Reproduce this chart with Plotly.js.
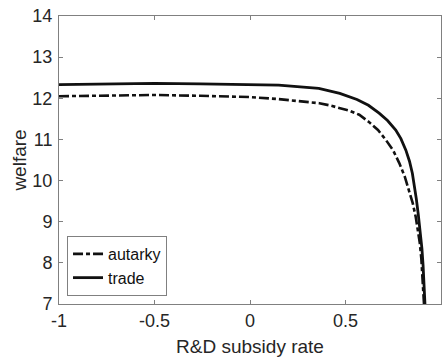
<!DOCTYPE html>
<html>
<head>
<meta charset="utf-8">
<script src="https://cdn.plot.ly/plotly-3.0.1.min.js"></script>
<style>html,body{margin:0;padding:0;background:#fff}#chart{width:442px;height:363px}</style>
</head>
<body>
<div id="chart"></div>
<script>
var subsidyTrade = [-1, -0.75, -0.5, -0.26, 0, 0.15, 0.36, 0.47, 0.56, 0.62, 0.676, 0.72, 0.763, 0.79, 0.816, 0.835, 0.85, 0.862, 0.871, 0.881, 0.889, 0.895, 0.9, 0.906, 0.911, 0.916];
var welfareTrade = [12.33, 12.35, 12.36, 12.35, 12.33, 12.32, 12.24, 12.12, 11.97, 11.83, 11.64, 11.46, 11.23, 11.02, 10.74, 10.47, 10.18, 9.87, 9.55, 9.18, 8.87, 8.6, 8.35, 7.95, 7.5, 7.0];
var subsidyAutarky = [-1, -0.75, -0.5, -0.26, 0, 0.15, 0.363, 0.415, 0.467, 0.52, 0.572, 0.624, 0.67, 0.711, 0.75, 0.781, 0.81, 0.833, 0.852, 0.868, 0.88, 0.889, 0.897, 0.904, 0.911];
var welfareAutarky = [12.05, 12.07, 12.08, 12.06, 12.03, 11.98, 11.88, 11.83, 11.77, 11.70, 11.60, 11.42, 11.23, 10.99, 10.73, 10.43, 10.10, 9.77, 9.45, 9.11, 8.8, 8.48, 8.1, 7.65, 7.0];
var xTicks = [-1, -0.5, 0, 0.5, 1];
var xTickLabels = ['-1', '-0.5', '0', '0.5', '1'];
var yTicks = [7, 8, 9, 10, 11, 12, 13, 14];

var FONT = 'Liberation Sans, Arial, sans-serif';

var traces = [
  {x: subsidyAutarky, y: welfareAutarky, name: 'autarky', mode: 'lines', type: 'scatter',
   line: {color: '#111', width: 2.6, dash: '10px,3px,4px,3px'}},
  {x: subsidyTrade, y: welfareTrade, name: 'trade', mode: 'lines', type: 'scatter',
   line: {color: '#111', width: 2.8}}
];

var axisCommon = {
  showgrid: false, zeroline: false, showline: true, linecolor: '#808080', linewidth: 1,
  mirror: 'ticks', ticks: 'inside', ticklen: 4, tickcolor: '#808080', tickwidth: 1,
  tickfont: {family: FONT, size: 18, color: '#262626'}
};

var layout = {
  width: 442, height: 363,
  margin: {l: 59, r: 1, t: 16, b: 59},
  paper_bgcolor: '#fff', plot_bgcolor: '#fff',
  showlegend: true,
  legend: {x: 0.021, y: 0.028, xanchor: 'left', yanchor: 'bottom',
    bgcolor: '#fff', bordercolor: '#808080', borderwidth: 1,
    font: {family: FONT, size: 16, color: '#111'},
    itemwidth: 30, tracegroupgap: 0},
  xaxis: Object.assign({}, axisCommon, {
    range: [-1, 1], tickvals: xTicks, ticktext: xTickLabels,
    title: {text: 'R&D subsidy rate', standoff: 10,
      font: {family: FONT, size: 19, color: '#262626'}}
  }),
  yaxis: Object.assign({}, axisCommon, {
    range: [7, 14], tickvals: yTicks, ticklabelstandoff: 2,
    title: {text: 'welfare', standoff: 0,
      font: {family: FONT, size: 19, color: '#262626'}}
  })
};

Plotly.newPlot('chart', traces, layout, {displayModeBar: false, staticPlot: true});
</script>
</body>
</html>
